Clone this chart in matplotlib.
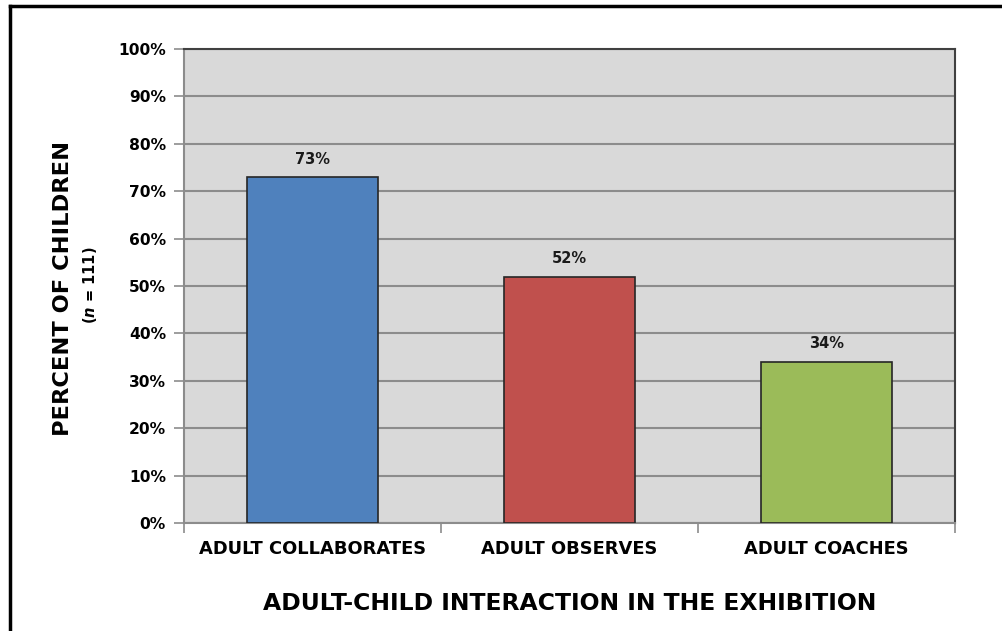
import matplotlib
matplotlib.use('Agg')
import matplotlib.pyplot as plt
from matplotlib.lines import Line2D
import numpy as np

# data
categories = ['ADULT COLLABORATES', 'ADULT OBSERVES', 'ADULT COACHES']
values = [73, 52, 34]
colors = ['#4f81bd', '#c0504d', '#9bbb59']

plt.rcParams['font.family'] = ['DejaVu Sans']
plt.rcParams['font.weight'] = 'bold'

W, H = 1002, 631
fig = plt.figure(figsize=(W/100, H/100), dpi=100)

# plot area in pixels
left, right, top, bottom = 184, 955, 49, 523
ax = fig.add_axes([left/W, 1-bottom/H, (right-left)/W, (bottom-top)/H])
ax.set_facecolor('#d9d9d9')

x = np.arange(len(categories))
bars = ax.bar(x, values, width=0.51, color=colors, edgecolor='#262626',
              linewidth=1.2, zorder=3)
for xi, v in zip(x, values):
    ax.text(xi, v + 2.2, '%d%%' % v, ha='center', va='bottom',
            fontsize=10.5, fontweight='bold', color='#1a1a1a')

ax.set_xlim(-0.5, 2.5)
ax.set_ylim(0, 100)
ax.set_yticks(np.arange(0, 101, 10))
ax.set_yticklabels(['%d%%' % t for t in range(0, 101, 10)])
ax.yaxis.grid(True, color='#8c8c8c', linewidth=1.5, zorder=0)
ax.set_axisbelow(True)

ax.set_xticks(x)
ax.set_xticklabels(categories)
ax.tick_params(axis='x', length=0, pad=12, labelsize=12.9)
ax.tick_params(axis='y', length=7, width=1.2, color='#8c8c8c', pad=6,
               labelsize=11.2)
# category boundary ticks
ax.set_xticks([-0.5, 0.5, 1.5, 2.5], minor=True)
ax.tick_params(axis='x', which='minor', length=7, width=1.2, color='#8c8c8c')

for s in ['left', 'bottom']:
    ax.spines[s].set_color('#8c8c8c')
    ax.spines[s].set_linewidth(1.5)
for s in ['top', 'right']:
    ax.spines[s].set_color('#404040')
    ax.spines[s].set_linewidth(1.5)

fig.text(569.5/W, 1-604/H, 'ADULT-CHILD INTERACTION IN THE EXHIBITION',
         ha='center', va='center', fontsize=16.9, fontweight='bold')

fig.text(63/W, 1-288/H, 'PERCENT OF CHILDREN', rotation=90, ha='center',
         va='center', fontsize=16.2, fontweight='bold')
fig.text(90/W, 1-285/H, r'($\mathit{n}$ = 111)', rotation=90, ha='center',
         va='center', fontsize=10.5, fontweight='bold')

# outer frame
fig.add_artist(Line2D([10/W, 1], [1-6/H, 1-6/H], color='black', linewidth=2.5))
fig.add_artist(Line2D([10/W, 10/W], [0, 1-6/H], color='black', linewidth=2.5))

fig.savefig('out.png', dpi=100)
